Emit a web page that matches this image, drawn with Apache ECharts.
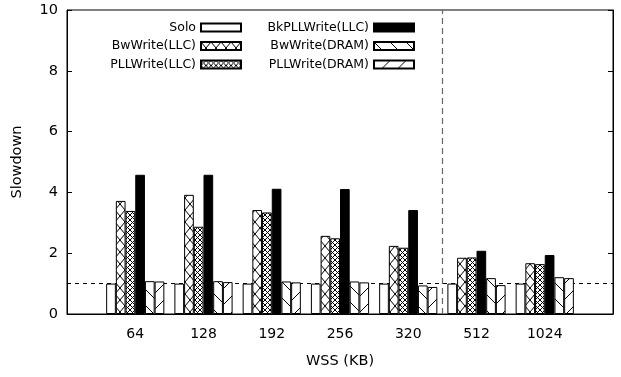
<!DOCTYPE html>
<html lang="en">
<head>
<meta charset="UTF-8">
<title>slowdown</title>
<script src="https://cdn.jsdelivr.net/npm/echarts@6/dist/echarts.min.js"></script>
</head>
<body style="margin:0">
<div id="main" style="width:621px;height:377px;"></div>
<script type="text/javascript">
const categories = ['64', '128', '192', '256', '320', '512', '1024'];
const solo = [1.0, 1.0, 1.0, 1.0, 1.0, 1.0, 1.0];
const bwWriteLLC = [3.72, 3.92, 3.42, 2.57, 2.24, 1.85, 1.67];
const pllWriteLLC = [3.39, 2.87, 3.34, 2.49, 2.18, 1.86, 1.64];
const bkPllWriteLLC = [4.58, 4.58, 4.12, 4.11, 3.42, 2.08, 1.94];
const bwWriteDRAM = [1.08, 1.08, 1.07, 1.07, 0.94, 1.18, 1.21];
const pllWriteDRAM = [1.07, 1.05, 1.04, 1.04, 0.89, 0.95, 1.18];
const yTicks = [0, 2, 4, 6, 8, 10];

// canvas tiles for the gnuplot-like fill patterns
function makePattern(w, h, lines) {
    const c = document.createElement('canvas');
    c.width = w; c.height = h;
    const ctx = c.getContext('2d');
    ctx.fillStyle = '#fff';
    ctx.fillRect(0, 0, w, h);
    ctx.strokeStyle = '#000';
    ctx.lineWidth = 1;
    ctx.beginPath();
    lines.forEach(function (l) {
        ctx.moveTo(l[0], l[1]);
        ctx.lineTo(l[2], l[3]);
    });
    ctx.stroke();
    return { image: c, repeat: 'repeat' };
}

const patCross = makePattern(10, 12, [[0, 0, 10, 12], [10, 0, 0, 12]]);
const patFine = makePattern(5, 5, [[0, 0, 5, 5], [5, 0, 0, 5]]);
const patBack = makePattern(16, 16, [[0, 0, 16, 16], [-8, 8, 8, 24], [8, -8, 24, 8]]);
const patSlash = makePattern(16, 16, [[0, 16, 16, 0], [-8, 8, 8, -8], [8, 24, 24, 8]]);

const seriesDefs = [
    ['Solo', solo, '#fff'],
    ['BwWrite(LLC)', bwWriteLLC, patCross],
    ['PLLWrite(LLC)', pllWriteLLC, patFine],
    ['BkPLLWrite(LLC)', bkPllWriteLLC, '#000'],
    ['BwWrite(DRAM)', bwWriteDRAM, patBack],
    ['PLLWrite(DRAM)', pllWriteDRAM, patSlash]
];

const font = 'DejaVu Sans';

function initChart() {
    let myChart = echarts.init(document.getElementById('main'));

    const series = seriesDefs.map(function (d) {
        return {
            name: d[0],
            type: 'bar',
            barWidth: 9.7,
            barGap: '0%',
            z: 2,
            itemStyle: { color: d[2], borderColor: '#000', borderWidth: 1 },
            data: d[1].map(function (v, k) { return [k + 1, v]; })
        };
    });
    // reference lines live on an empty line series so bar offsets don't shift them
    series.push({
        name: 'ref',
        type: 'line',
        data: [],
        markLine: {
            silent: true,
            symbol: 'none',
            z: 1,
            label: { show: false },
            data: [
                { yAxis: 1, lineStyle: { type: [4, 4], color: '#000', width: 1 } },
                { xAxis: 5.5, lineStyle: { type: [6, 4], color: '#666', width: 1.2 } }
            ]
        }
    });

    // one legend per entry so that text is right aligned against the key box
    const legendPos = [
        [379, 21], [379, 39.5], [379, 58],
        [206, 21], [206, 39.5], [206, 58]
    ];
    const legends = seriesDefs.map(function (d, i) {
        return {
            data: [d[0]],
            right: legendPos[i][0],
            top: legendPos[i][1],
            align: 'right',
            padding: 0,
            itemWidth: 40,
            itemHeight: 8,
            icon: 'rect',
            selectedMode: false,
            textStyle: { fontFamily: font, fontSize: 12.5, color: '#000' }
        };
    });

    const option = {
        animation: false,
        backgroundColor: '#fff',
        grid: { left: 67, right: 8, top: 10, bottom: 63, show: true, borderColor: '#000', borderWidth: 1 },
        legend: legends,
        xAxis: {
            type: 'value',
            min: 0,
            max: 8,
            interval: 1,
            name: 'WSS (KB)',
            nameLocation: 'middle',
            nameGap: 40,
            nameTextStyle: { fontFamily: font, fontSize: 14.5, color: '#000' },
            axisLine: { show: true, lineStyle: { color: '#000' } },
            axisTick: { show: false },
            splitLine: { show: false },
            axisLabel: {
                fontFamily: font, fontSize: 14, color: '#000', margin: 13,
                formatter: function (v) { return categories[v - 1] || ''; }
            }
        },
        yAxis: [
            {
                type: 'value',
                min: yTicks[0],
                max: yTicks[yTicks.length - 1],
                interval: 2,
                name: 'Slowdown',
                nameLocation: 'middle',
                nameGap: 42,
                nameTextStyle: { fontFamily: font, fontSize: 14.5, color: '#000' },
                axisLine: { show: true, lineStyle: { color: '#000' } },
                axisTick: { show: true, inside: true, length: 5, lineStyle: { color: '#000' } },
                splitLine: { show: false },
                axisLabel: { fontFamily: font, fontSize: 14.5, color: '#000', margin: 9 }
            },
            {
                type: 'value',
                position: 'right',
                min: yTicks[0],
                max: yTicks[yTicks.length - 1],
                interval: 2,
                axisLine: { show: true, lineStyle: { color: '#000' } },
                axisTick: { show: true, inside: true, length: 5, lineStyle: { color: '#000' } },
                splitLine: { show: false },
                axisLabel: { show: false }
            }
        ],
        series: series
    };
    myChart.setOption(option);
}
initChart();
</script>
</body>
</html>
